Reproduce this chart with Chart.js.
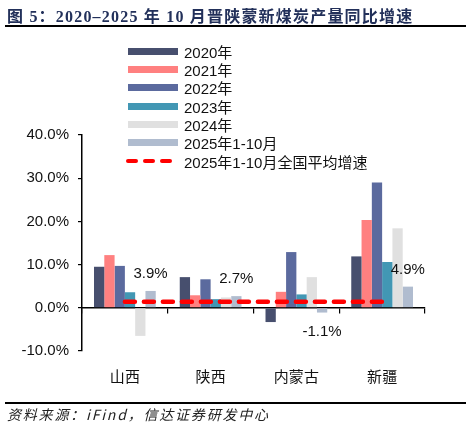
<!DOCTYPE html>
<html>
<head>
<meta charset="utf-8">
<script src="https://cdn.jsdelivr.net/npm/chart.js@4.4.1/dist/chart.umd.min.js"></script>
<style>
    body { margin: 0; background: #fff; }
    #lienzo { position: relative; width: 471px; height: 429px; overflow: hidden; }
    #contenedor { position: absolute; left: 0; top: 0; width: 471px; height: 429px; }
    #titulo {
        position: absolute; left: 7px; top: 3px; white-space: nowrap;
        font-family: "Liberation Serif", "Noto Sans CJK SC", serif;
        font-weight: bold; font-size: 16px; letter-spacing: 1.2px; color: #22305a;
    }
    .raya { position: absolute; left: 5px; width: 461px; height: 2px; background: #000; }
    #fuente {
        position: absolute; left: 7px; top: 404px; white-space: nowrap;
        font-family: "Noto Sans CJK SC", sans-serif; font-style: italic;
        font-size: 14px; letter-spacing: 1.8px; color: #222;
    }
    #leyenda { position: absolute; left: 126px; top: 42px; }
    .item { display: flex; align-items: center; height: 18.33px; }
    .muestra { width: 50px; height: 7px; margin-left: 2px; margin-right: 6px; }
    .guiones { display: flex; width: 52px; margin-right: 6px; }
    .guiones span { width: 12px; height: 4.5px; border-radius: 2.5px; background: #ff0000; margin-right: 5px; }
    .texto { font-family: "Liberation Sans", "Noto Sans CJK SC", sans-serif; font-size: 15px; color: #111; }
</style>
</head>
<body>
<div id="lienzo">
    <div id="contenedor"><canvas id="grafico"></canvas></div>
    <div id="titulo">图 5：2020–2025 年 10 月晋陕蒙新煤炭产量同比增速</div>
    <div class="raya" style="top:25px"></div>
    <div id="leyenda"></div>
    <div class="raya" style="top:402px"></div>
    <div id="fuente">资料来源：iFind，信达证券研发中心</div>
</div>
<script>
// Datos (%)
const categorias = ['山西', '陕西', '内蒙古', '新疆'];
const nombresSeries = ['2020年', '2021年', '2022年', '2023年', '2024年', '2025年1-10月'];
const serie2020 = [9.5, 7.1, -3.3, 11.9];
const serie2021 = [12.2, 2.9, 3.7, 20.3];
const serie2022 = [9.7, 6.6, 12.9, 29.0];
const serie2023 = [3.6, 2.0, 3.1, 10.6];
const serie2024 = [-6.5, 2.4, 7.1, 18.4];
const serie2025 = [3.9, 2.7, -1.1, 4.9];
const nombreLinea = '2025年1-10月全国平均增速';
const promedioNacional = [1.4, 1.4, 1.4, 1.4];
const ticksY = [-10, 0, 10, 20, 30, 40];

// Colores de las series
const COLORES = ['#474f6e', '#ff8080', '#5b6a9e', '#4297b4', '#e0e0e0', '#b0bccf'];
const ROJO = '#ff0000';

/**
 * Leyenda en HTML (columna a la izquierda del gráfico)
 */
function crearLeyenda() {
    const caja = document.getElementById('leyenda');
    nombresSeries.forEach(function(nombre, i) {
        const fila = document.createElement('div');
        fila.className = 'item';
        fila.innerHTML = '<div class="muestra" style="background:' + COLORES[i] + '"></div>' +
            '<span class="texto">' + nombre + '</span>';
        caja.appendChild(fila);
    });
    const fila = document.createElement('div');
    fila.className = 'item';
    fila.innerHTML = '<div class="guiones"><span></span><span></span><span></span></div>' +
        '<span class="texto">' + nombreLinea + '</span>';
    caja.appendChild(fila);
}

/**
 * Etiquetas de valor sobre las barras de 2025
 */
const etiquetas2025 = {
    id: 'etiquetas2025',
    afterDatasetsDraw(chart) {
        const ctx = chart.ctx;
        const meta = chart.getDatasetMeta(5);
        ctx.save();
        ctx.font = '15px "Liberation Sans", Arial, sans-serif';
        ctx.fillStyle = '#111';
        ctx.textAlign = 'center';
        ctx.textBaseline = 'middle';
        meta.data.forEach(function(barra, i) {
            const v = serie2025[i];
            const y = v >= 0 ? barra.y - 17 : barra.y + 19;
            ctx.fillText(v.toFixed(1) + '%', barra.x, y);
        });
        ctx.restore();
    }
};

function initGrafico() {
    const series = [serie2020, serie2021, serie2022, serie2023, serie2024, serie2025];
    const datasets = series.map(function(datos, i) {
        return {
            type: 'bar',
            label: nombresSeries[i],
            data: datos,
            backgroundColor: COLORES[i],
            categoryPercentage: 0.72,
            barPercentage: 1.0,
            xAxisID: 'x',
            yAxisID: 'y'
        };
    });
    datasets.push({
        type: 'line',
        label: nombreLinea,
        data: promedioNacional,
        borderColor: ROJO,
        borderWidth: 4.5,
        borderDash: [10, 9],
        borderCapStyle: 'round',
        pointRadius: 0,
        fill: false,
        order: -1,
        xAxisID: 'x',
        yAxisID: 'y'
    });

    new Chart(document.getElementById('grafico'), {
        data: { labels: categorias, datasets: datasets },
        options: {
            responsive: true,
            maintainAspectRatio: false,
            animation: false,
            layout: { padding: { left: 0, right: 46, top: 135, bottom: 38 } },
            plugins: { legend: { display: false }, tooltip: { enabled: false } },
            scales: {
                x: {
                    type: 'category',
                    position: { y: 0 },
                    offset: true,
                    ticks: { display: false },
                    grid: { offset: true, drawOnChartArea: false, drawTicks: true, tickLength: 5, color: '#000', lineWidth: 1.2 },
                    border: { display: true, color: '#000', width: 1.5 }
                },
                x2: {
                    type: 'category',
                    axis: 'x',
                    position: 'bottom',
                    labels: categorias,
                    offset: true,
                    grid: { display: false, drawTicks: false },
                    border: { display: false },
                    ticks: {
                        color: '#111',
                        padding: 18,
                        font: { family: '"Liberation Sans", "Noto Sans CJK SC", sans-serif', size: 15 }
                    },
                    afterFit: function(scale) { scale.height = 40; }
                },
                y: {
                    min: -10,
                    max: 40,
                    afterBuildTicks: function(scale) {
                        scale.ticks = ticksY.map(function(v) { return { value: v }; });
                    },
                    ticks: {
                        color: '#111',
                        padding: 9,
                        font: { family: '"Liberation Sans", Arial, sans-serif', size: 15 },
                        callback: function(value) { return value.toFixed(1) + '%'; }
                    },
                    grid: { drawOnChartArea: false, drawTicks: true, tickLength: 4, color: '#000', lineWidth: 1.2 },
                    border: { display: true, color: '#000', width: 1.5 },
                    afterFit: function(scale) { scale.width = 82; }
                }
            }
        },
        plugins: [etiquetas2025]
    });
}

document.addEventListener('DOMContentLoaded', function() {
    crearLeyenda();
    initGrafico();
});
</script>
</body>
</html>
